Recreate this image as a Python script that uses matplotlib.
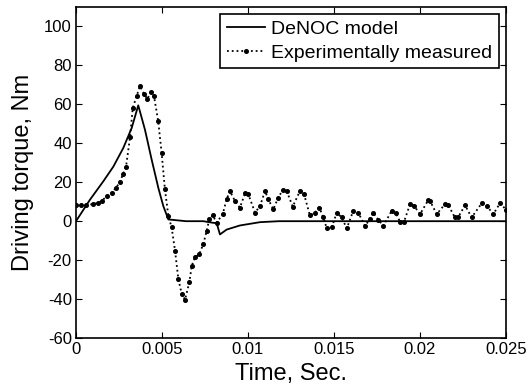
import numpy as np
import matplotlib.pyplot as plt

plt.rcParams['font.family'] = ['Liberation Sans', 'DejaVu Sans']
plt.rcParams['axes.unicode_minus'] = False

# DeNOC model (time in s, torque in Nm)
t_model = [0.0, 0.00081, 0.00159, 0.00217, 0.00275, 0.00324, 0.00362,
           0.00401, 0.0044, 0.00479, 0.00508, 0.00537, 0.0064, 0.0074,
           0.00795, 0.00818, 0.00837, 0.00876, 0.00953, 0.0107, 0.0118,
           0.025]
v_model = [0.0, 11.0, 20.5, 28.0, 37.6, 47.9, 59.5,
           47.0, 31.6, 17.0, 7.7, 0.9, 0.0, 0.0,
           -0.8, -1.0, -6.8, -4.3, -2.2, -0.5, 0.0,
           0.0]

# experimentally measured
t_exp = [0.0, 0.0003, 0.0006, 0.001, 0.0013, 0.0015, 0.0018, 0.00208, 0.0023,
         0.00256, 0.00272, 0.00291, 0.00314, 0.0033, 0.00353, 0.00372,
         0.00395, 0.00415, 0.00434, 0.00453, 0.00478, 0.00498, 0.00517,
         0.00537, 0.00556, 0.00576, 0.00595, 0.00615, 0.00634, 0.00659,
         0.00673, 0.00692, 0.00717, 0.0074, 0.0076, 0.00775, 0.00795,
         0.00818, 0.00853, 0.00876, 0.00895, 0.00924, 0.00953, 0.00983,
         0.01002, 0.01041, 0.0107, 0.01099, 0.01118, 0.01147, 0.01176,
         0.01202, 0.01225, 0.0126, 0.01302, 0.01326, 0.0136, 0.0139,
         0.01415, 0.01438, 0.01458, 0.01487, 0.01516, 0.01545, 0.01574,
         0.01612, 0.01641, 0.0168, 0.01709, 0.01728, 0.01758, 0.01787,
         0.01835, 0.0186, 0.01884, 0.01907, 0.01942, 0.01965, 0.02,
         0.02048, 0.02058, 0.02097, 0.02145, 0.02163, 0.02203, 0.02221,
         0.02262, 0.023, 0.02359, 0.02388, 0.02426, 0.02465, 0.025]
v_exp = [8.5, 8.5, 8.5, 8.7, 9.5, 10.4, 13.0, 14.7, 17.0,
         20.0, 24.0, 28.0, 43.0, 58.0, 64.5, 69.3,
         65.5, 62.8, 66.2, 64.5, 51.4, 35.0, 16.4,
         2.7, -3.2, -15.2, -29.7, -37.4, -40.3, -31.4,
         -22.9, -18.6, -16.9, -11.8, -5.0, 1.0, 3.0,
         -0.7, 3.6, 11.3, 15.5, 10.4, 7.0, 14.3,
         13.8, 4.4, 7.8, 15.5, 11.3, 6.1, 12.1,
         16.0, 15.5, 7.5, 15.5, 13.8, 3.0, 4.4,
         7.0, 1.9, -3.7, -3.2, 4.4, 1.9, -3.7,
         5.3, 4.4, -2.4, 1.0, 4.4, 0.7, -2.4,
         5.3, 4.0, -0.3, -0.3, 8.7, 8.0, 3.6,
         10.8, 10.5, 3.6, 8.7, 8.5, 1.9, 1.9,
         8.2, 1.9, 9.2, 8.0, 3.6, 9.2, 6.0]

fig = plt.figure(figsize=(5.31, 3.90), dpi=100)
ax = fig.add_axes([0.1431, 0.1333, 0.8098, 0.8487])

ax.plot(t_model, v_model, 'k-', lw=1.3, label='DeNOC model')
ax.plot(t_exp, v_exp, 'k:', lw=1.3, marker='o', ms=2.6, label='Experimentally measured')

ax.set_xlim(0, 0.025)
ax.set_ylim(-60, 110)
ax.set_xticks([0, 0.005, 0.01, 0.015, 0.02, 0.025])
ax.set_xticklabels(['0', '0.005', '0.01', '0.015', '0.02', '0.025'])
ax.set_yticks(np.arange(-60, 101, 20))
ax.tick_params(direction='in', top=True, right=True, labelsize=12, length=4, width=0.8, pad=3)
for s in ax.spines.values():
    s.set_linewidth(1.2)

ax.set_xlabel('Time, Sec.', fontsize=17, labelpad=4)
ax.set_ylabel('Driving torque, Nm', fontsize=17, labelpad=7)

leg = ax.legend(loc='upper right', fontsize=14, fancybox=False, framealpha=1,
                edgecolor='k', borderpad=0.35, handlelength=2.0, handletextpad=0.3,
                labelspacing=0.3, borderaxespad=0.35)
leg.get_frame().set_linewidth(1.2)

fig.savefig('out.png', dpi=100)
